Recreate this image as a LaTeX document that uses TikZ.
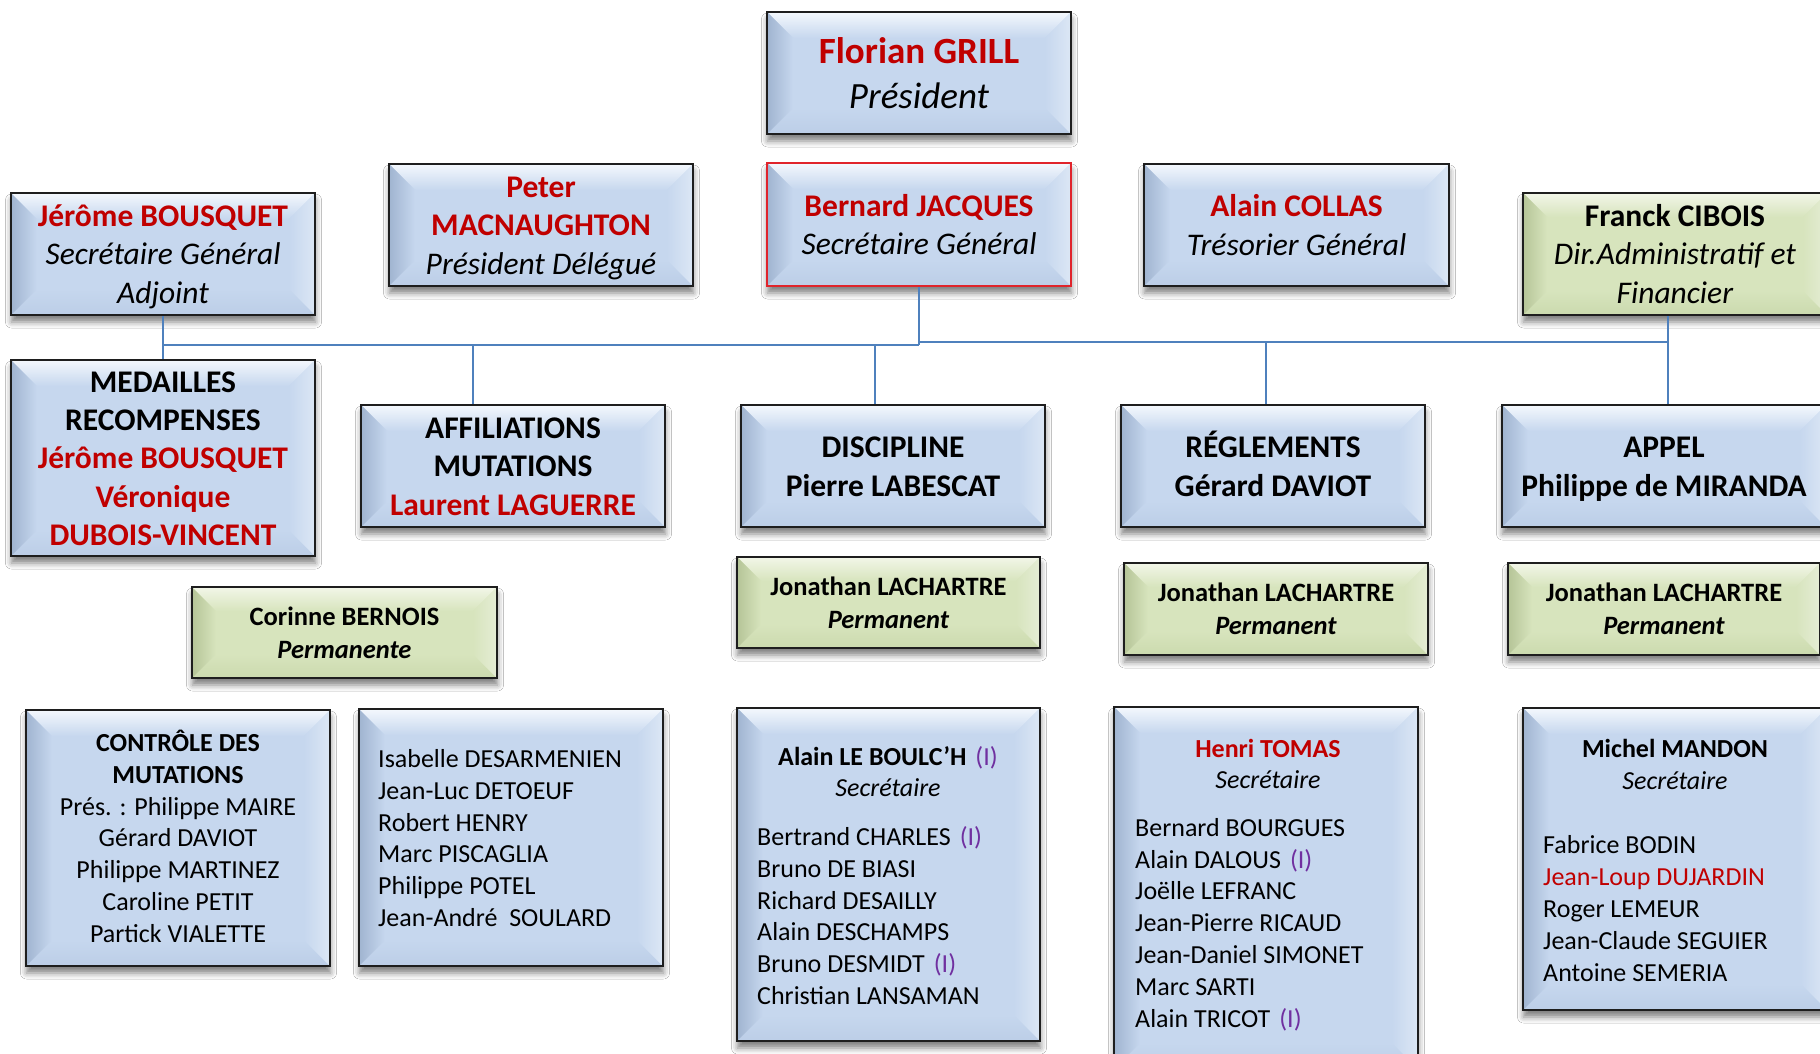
\documentclass[tikz,border=0pt]{standalone}
\usepackage{fontspec}
\setmainfont{Carlito}
\usetikzlibrary{calc,shadows.blur}
\definecolor{bbase}{HTML}{C6D7EE}
\definecolor{btop}{HTML}{F4F8FD}
\definecolor{bleft}{HTML}{A0B4D0}
\definecolor{bright}{HTML}{DCE7F5}
\definecolor{bbot}{HTML}{BCCEE7}
\definecolor{gbase}{HTML}{D7E4BD}
\definecolor{gtop}{HTML}{F2F6E8}
\definecolor{gleft}{HTML}{B5C497}
\definecolor{gright}{HTML}{E5EDD5}
\definecolor{gbot}{HTML}{CBDAAE}
\definecolor{boxline}{HTML}{1E1E1E}
\definecolor{redtxt}{HTML}{C00000}
\definecolor{purp}{HTML}{7030A0}
\definecolor{connc}{HTML}{4F81BD}
\definecolor{redline}{HTML}{E0242B}
\newcommand{\bevelfill}[6]{%
  \coordinate (bNW) at (path picture bounding box.north west);
  \coordinate (bNE) at (path picture bounding box.north east);
  \coordinate (bSW) at (path picture bounding box.south west);
  \coordinate (bSE) at (path picture bounding box.south east);
  \coordinate (iNW) at ($(bNW)+(#6,#6)$);
  \coordinate (iNE) at ($(bNE)+(-#6,#6)$);
  \coordinate (iSW) at ($(bSW)+(#6,-#6)$);
  \coordinate (iSE) at ($(bSE)+(-#6,-#6)$);
  \shade[top color=#2, bottom color=#1] (bNW) -- (bNE) -- (iNE) -- (iNW) -- cycle;
  \shade[top color=#1, bottom color=#5] (bSW) -- (bSE) -- (iSE) -- (iSW) -- cycle;
  \shade[left color=#3, right color=#1] (bNW) -- (iNW) -- (iSW) -- (bSW) -- cycle;
  \shade[left color=#1, right color=#4] (bNE) -- (iNE) -- (iSE) -- (bSE) -- cycle;
}
\newcommand{\purpI}{\hspace{9pt}\textcolor{purp}{(I)}}
\newcommand{\bxstrut}{\vrule width 0pt height .95em depth .26em\relax}
\begin{document}
\begin{tikzpicture}[x=1pt,y=-1pt,
  boxbase/.style={rectangle, draw=boxline, line width=2.2pt, inner sep=0pt, align=center,
    blur shadow={shadow xshift=0.5pt, shadow yshift=-7pt, shadow blur radius=6pt, shadow opacity=50}},
  bluebox/.style={boxbase, fill=bbase, path picture={\bevelfill{bbase}{btop}{bleft}{bright}{bbot}{26}}},
  greenbox/.style={boxbase, fill=gbase, path picture={\bevelfill{gbase}{gtop}{gleft}{gright}{gbot}{24}}},
  bigf/.style={font=\fontsize{37}{45}\selectfont},
  midf/.style={font=\fontsize{31.5}{38.3}\selectfont},
  smallf/.style={font=\fontsize{26.5}{32}\selectfont},
  listf/.style={font=\fontsize{26}{31.8}\selectfont, align=left, inner sep=0pt},
  headf/.style={font=\fontsize{26}{31.8}\selectfont, align=center, inner sep=0pt},
  connector/.style={draw=connc, line width=1.6pt},
  sz/.style 2 args={minimum width=#1pt, minimum height=#2pt}
]
\useasboundingbox[fill=white] (0,0) rectangle (1820,1054);

% top level
\node[bluebox, bigf, sz={304}{122}] (pres) at (919,73)
  {\bxstrut\textcolor{redtxt}{\bfseries Florian GRILL}\\\textit{Président}\bxstrut};
\node[bluebox, midf, sz={304}{123}, draw=redline, line width=2.5pt] (bernard) at (919,224.5)
  {\bxstrut\textcolor{redtxt}{\bfseries Bernard JACQUES}\\\textit{Secrétaire Général}\bxstrut};
\node[bluebox, midf, sz={304}{122}] (jerome) at (163,254)
  {\bxstrut\textcolor{redtxt}{\bfseries Jérôme BOUSQUET}\\\textit{Secrétaire Général}\\\textit{Adjoint}\bxstrut};
\node[bluebox, midf, sz={304}{122}] (peter) at (541,225)
  {\bxstrut\textcolor{redtxt}{\bfseries Peter}\\\textcolor{redtxt}{\bfseries MACNAUGHTON}\\\textit{Président Délégué}\bxstrut};
\node[bluebox, midf, sz={305}{122}] (collas) at (1296.5,225)
  {\bxstrut\textcolor{redtxt}{\bfseries Alain COLLAS}\\\textit{Trésorier Général}\bxstrut};
\node[greenbox, midf, sz={304}{122}] (cibois) at (1675,254)
  {\bxstrut\textbf{Franck CIBOIS}\\\textit{Dir.Administratif et}\\\textit{Financier}\bxstrut};

% commissions
\node[bluebox, midf, sz={304}{196}] (medailles) at (163,458)
  {\bxstrut\textbf{MEDAILLES}\\\textbf{RECOMPENSES}\\\textcolor{redtxt}{\bfseries Jérôme BOUSQUET}\\\textcolor{redtxt}{\bfseries Véronique}\\\textcolor{redtxt}{\bfseries DUBOIS-VINCENT}\bxstrut};
\node[bluebox, midf, sz={304}{122}] (affil) at (513,466)
  {\bxstrut\textbf{AFFILIATIONS}\\\textbf{MUTATIONS}\\\textcolor{redtxt}{\bfseries Laurent LAGUERRE}\bxstrut};
\node[bluebox, midf, sz={304}{122}] (disc) at (893,466)
  {\bxstrut\textbf{DISCIPLINE}\\\textbf{Pierre LABESCAT}\bxstrut};
\node[bluebox, midf, sz={304}{122}] (regl) at (1273,466)
  {\bxstrut\textbf{RÉGLEMENTS}\\\textbf{Gérard DAVIOT}\bxstrut};
\node[bluebox, midf, sz={324}{122}] (appel) at (1664,466)
  {\bxstrut\textbf{APPEL}\\\textbf{Philippe de MIRANDA}\bxstrut};

% permanents
\node[greenbox, smallf, sz={305}{91}] (corinne) at (344.5,632.5)
  {\bxstrut\textbf{Corinne BERNOIS}\\\textbf{\textit{Permanente}}\bxstrut};
\node[greenbox, smallf, sz={303}{91}] (jon1) at (888.5,602.5)
  {\bxstrut\textbf{Jonathan LACHARTRE}\\\textbf{\textit{Permanent}}\bxstrut};
\node[greenbox, smallf, sz={304}{92}] (jon2) at (1276,609)
  {\bxstrut\textbf{Jonathan LACHARTRE}\\\textbf{\textit{Permanent}}\bxstrut};
\node[greenbox, smallf, sz={312}{92}] (jon3) at (1664,609)
  {\bxstrut\textbf{Jonathan LACHARTRE}\\\textbf{\textit{Permanent}}\bxstrut};

% member lists
\node[bluebox, headf, sz={304}{256}] (controle) at (178,838)
  {\bxstrut\textbf{CONTRÔLE DES}\\\textbf{MUTATIONS}\\Prés. : Philippe MAIRE\\Gérard DAVIOT\\Philippe MARTINEZ\\Caroline PETIT\\Partick VIALETTE\bxstrut};
\node[bluebox, sz={304}{257}] (affillist) at (511,837.5) {};
\node[listf, anchor=west] (affilnames) at (378,838)
  {Isabelle DESARMENIEN\\Jean-Luc DETOEUF\\Robert HENRY\\Marc PISCAGLIA\\Philippe POTEL\\Jean-André\ \ SOULARD};

\node[bluebox, sz={303}{333}] (disclist) at (888.5,874.5) {};
\node[headf] (dischead) at (888,771.5)
  {\textbf{Alain LE BOULC’H}\purpI\\\textit{Secrétaire}};
\node[listf, anchor=west] (discnames) at (757,915.5)
  {Bertrand CHARLES\purpI\\Bruno DE BIASI\\Richard DESAILLY\\Alain DESCHAMPS\\Bruno DESMIDT\purpI\\Christian LANSAMAN};

\node[bluebox, sz={304}{362}] (reglist) at (1266,888) {};
\node[headf] (reghead) at (1268,764)
  {\textcolor{redtxt}{\bfseries Henri TOMAS}\\\textit{Secrétaire}};
\node[listf, anchor=west] (regnames) at (1135,924.5)
  {Bernard BOURGUES\\Alain DALOUS\purpI\\Joëlle LEFRANC\\Jean-Pierre RICAUD\\Jean-Daniel SIMONET\\Marc SARTI\\Alain TRICOT\purpI};

\node[bluebox, sz={304}{302}] (appellist) at (1675,859) {};
\node[headf] (appelhead) at (1675,764.5)
  {\textbf{Michel MANDON}\\\textit{Secrétaire}};
\node[listf, anchor=west] (appelnames) at (1543,908.5)
  {Fabrice BODIN\\\textcolor{redtxt}{Jean-Loup DUJARDIN}\\Roger LEMEUR\\Jean-Claude SEGUIER\\Antoine SEMERIA};

% connectors
\coordinate (hubL) at (919,345);
\coordinate (hubR) at (919,342);
\coordinate (dA) at (473,345);
\coordinate (dD) at (875,345);
\coordinate (dR) at (1266,342);
\coordinate (dC) at (1668,342);
\draw[connector] (bernard.south) -- (hubL);
\draw[connector] (jerome.south) -- (medailles.north);
\draw[connector] (jerome.south |- hubL) -- (hubL);
\draw[connector] (hubR) -- (dC);
\draw[connector] (dA) -- (dA |- affil.north);
\draw[connector] (dD) -- (dD |- disc.north);
\draw[connector] (dR) -- (dR |- regl.north);
\draw[connector] (dC |- cibois.south) -- (dC |- appel.north);
\end{tikzpicture}
\end{document}
